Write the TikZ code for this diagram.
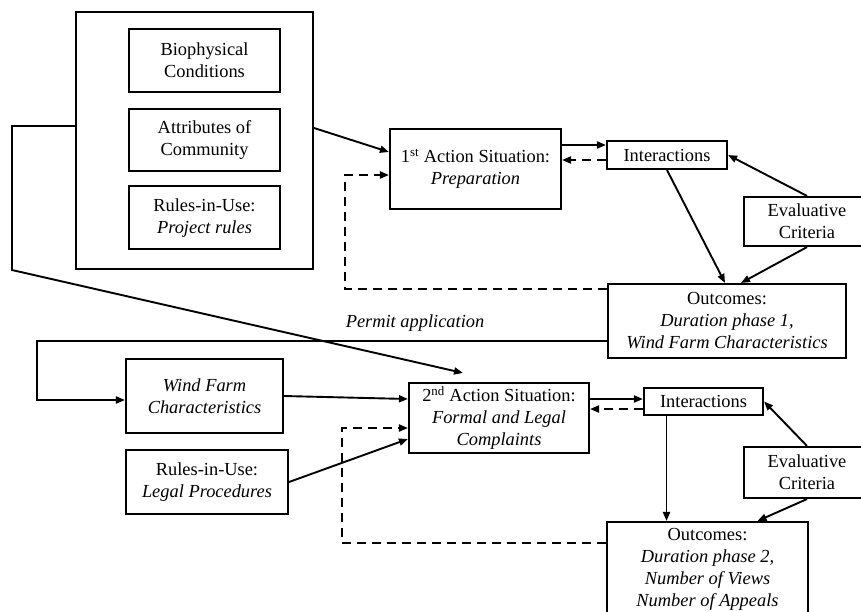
\documentclass[tikz,border=0pt]{standalone}
\usepackage{fontspec}
\setmainfont{Liberation Serif}
\usetikzlibrary{positioning, arrows.meta, calc}

\begin{document}
\begin{tikzpicture}[
				x=1pt, y=-1pt,
				font=\fontsize{18.4}{22}\selectfont,
				mybox/.style={
					draw,
					rectangle,
					line width=2.1pt,
					align=center,
					inner sep=2pt
				},
				arrow/.style={
					-{Triangle[length=9pt,width=7pt]},
					line width=1.9pt
				},
				dasharrow/.style={
					arrow,
					dash pattern=on 9pt off 6pt
				}
				]
				\useasboundingbox (0,0) rectangle (861,611);
				\node[mybox, minimum width=237pt, minimum height=257pt] (context) at (194.5,140.5) {};
				\node[mybox, minimum width=151pt, minimum height=63pt] (bio) at (204.5,60.5) {Biophysical\\Conditions};
				\node[mybox, minimum width=151pt, minimum height=62pt, below=15pt of bio] (attr) {Attributes of\\Community};
				\node[mybox, minimum width=151pt, minimum height=63pt, below=13pt of attr] (rules) {Rules-in-Use:\\\textit{Project rules}};
				\node[mybox, minimum width=171pt, minimum height=80pt] (as1) at (475.5,169) {1\textsuperscript{st} Action Situation:\\\textit{Preparation}};
				\node[mybox, minimum width=120pt, minimum height=28pt] (int1) at (667,155) {Interactions};
				\node[mybox, minimum width=126pt, minimum height=49pt] (eval1) at (807,221.5) {Evaluative\\Criteria};
				\node[mybox, minimum width=238pt, minimum height=74pt] (out1) at (727,321) {Outcomes:\\\textit{Duration phase 1,}\\\textit{Wind Farm Characteristics}};
				\node (permit) at (415,323) {\textit{Permit application}};
				\node[mybox, minimum width=157pt, minimum height=74pt] (wfc) at (204.5,396) {\textit{Wind Farm}\\\textit{Characteristics}};
				\node[mybox, minimum width=162pt, minimum height=64pt] (legal) at (207,482) {Rules-in-Use:\\\textit{Legal Procedures}};
				\node[mybox, minimum width=180pt, minimum height=70pt] (as2) at (499,418) {2\textsuperscript{nd} Action Situation:\\\textit{Formal and Legal}\\\textit{Complaints}};
				\node[mybox, minimum width=119pt, minimum height=27pt] (int2) at (703.5,401.5) {Interactions};
				\node[mybox, minimum width=126pt, minimum height=51pt] (eval2) at (807,472.5) {Evaluative\\Criteria};
				\node[mybox, minimum width=201pt, minimum height=95pt] (out2) at (707.5,569.5) {Outcomes:\\\textit{Duration phase 2,}\\\textit{Number of Views}\\\textit{Number of Appeals}};
				\draw[arrow] ($(context.east)+(0,-12.5)$) -- ($(as1.west)+(0,-17)$);
				\draw[arrow] ($(context.west)+(0,-14.5)$) -- ++(-63,0) -- ++(0,144) -- ($(as2.north)+(-36,-9)$);
				\draw[arrow] ($(as1.east)+(0,-24)$) -- ($(int1.west)+(0,-10)$);
				\draw[dasharrow] ($(int1.west)+(0,5)$) -- ($(as1.east)+(0,-9)$);
				\draw[arrow] (eval1.north) -- (int1.east);
				\draw[arrow] (int1.south) -- ($(out1.north)+(-2,0)$);
				\draw[arrow] (eval1.south) -- ($(out1.north)+(14,0)$);
				\draw[dasharrow] ($(out1.west)+(0,-32)$) -| ($(as1.west)+(-44,6)$) -- ($(as1.west)+(0,6)$);
				\draw[arrow] ($(out1.west)+(0,20)$) -| ($(wfc.west)+(-88,4)$) -- ($(wfc.west)+(0,4)$);
				\draw[arrow] (wfc.east) -- ($(as2.west)+(0,-19)$);
				\draw[arrow] (legal.east) -- ($(as2.west)+(0,21)$);
				\draw[dasharrow] ($(out2.west)+(0,-26.5)$) -| ($(as2.west)+(-66,10)$) -- ($(as2.west)+(0,10)$);
				\draw[arrow] ($(as2.east)+(0,-19)$) -- ($(int2.west)+(0,-2.5)$);
				\draw[dasharrow] ($(int2.west)+(0,7.5)$) -- ($(as2.east)+(0,-9)$);
				\draw[arrow] (eval2.north) -- (int2.east);
				\draw[arrow] ($(int2.south)+(-37,0)$) -- ($(out2.north)+(-41,0)$);
				\draw[arrow] (eval2.south) -- ($(out2.north)+(50,0)$);
			\end{tikzpicture}
\end{document}
